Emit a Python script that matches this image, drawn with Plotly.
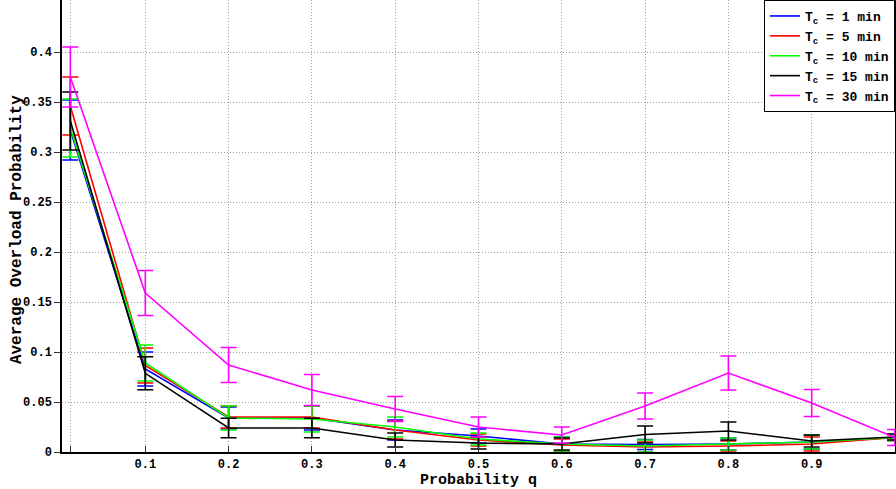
import plotly.graph_objects as go

q = [0.01, 0.1, 0.2, 0.3, 0.4, 0.5, 0.6, 0.7, 0.8, 0.9, 1.0]

names = ["T<sub>c</sub> = 1 min", "T<sub>c</sub> = 5 min", "T<sub>c</sub> = 10 min",
         "T<sub>c</sub> = 15 min", "T<sub>c</sub> = 30 min"]
colors = ["#0000ff", "#ff0000", "#00ff00", "#000000", "#ff00ff"]

tc1_mean = [0.322, 0.083, 0.034, 0.034, 0.022, 0.016, 0.008, 0.0075, 0.008, 0.010, 0.0145]
tc1_err = [0.030, 0.017, 0.011, 0.012, 0.010, 0.007, 0.007, 0.005, 0.006, 0.007, 0.003]

tc5_mean = [0.346, 0.0865, 0.035, 0.035, 0.022, 0.012, 0.007, 0.005, 0.006, 0.008, 0.0145]
tc5_err = [0.029, 0.0175, 0.011, 0.011, 0.009, 0.006, 0.006, 0.005, 0.005, 0.007, 0.003]

tc10_mean = [0.324, 0.089, 0.034, 0.033, 0.025, 0.013, 0.008, 0.006, 0.008, 0.010, 0.0145]
tc10_err = [0.029, 0.018, 0.012, 0.013, 0.010, 0.006, 0.007, 0.006, 0.006, 0.007, 0.003]

tc15_mean = [0.331, 0.0787, 0.024, 0.024, 0.012, 0.009, 0.008, 0.0175, 0.021, 0.011, 0.015]
tc15_err = [0.029, 0.0165, 0.0097, 0.0097, 0.007, 0.006, 0.006, 0.0085, 0.009, 0.006, 0.003]

tc30_mean = [0.375, 0.159, 0.087, 0.062, 0.043, 0.025, 0.017, 0.046, 0.079, 0.049, 0.0145]
tc30_err = [0.030, 0.0225, 0.0175, 0.0155, 0.0125, 0.010, 0.008, 0.013, 0.017, 0.0135, 0.008]

means = [tc1_mean, tc5_mean, tc10_mean, tc15_mean, tc30_mean]
errs = [tc1_err, tc5_err, tc10_err, tc15_err, tc30_err]

x_tickvals = [0.01, 0.1, 0.2, 0.3, 0.4, 0.5, 0.6, 0.7, 0.8, 0.9, 1.0]
x_ticktext = ["", "0.1", "0.2", "0.3", "0.4", "0.5", "0.6", "0.7", "0.8", "0.9", "1"]
y_tickvals = [0, 0.05, 0.1, 0.15, 0.2, 0.25, 0.3, 0.35, 0.4]
y_ticktext = ["0", "0.05", "0.1", "0.15", "0.2", "0.25", "0.3", "0.35", "0.4"]

x_title = "Probability q"
y_title = "Average Overload Probability"

FONT = "Liberation Mono"

fig = go.Figure()
for name, color, m, e in zip(names, colors, means, errs):
    fig.add_trace(go.Scatter(
        x=q, y=m, name=name, mode="lines",
        line=dict(color=color, width=1.6),
        error_y=dict(type="data", array=e, visible=True, color=color,
                     thickness=1.6, width=8),
    ))

fig.update_layout(
    width=896, height=489,
    margin=dict(l=62, r=1, t=0, b=37, pad=0),
    paper_bgcolor="white", plot_bgcolor="white",
    font=dict(family=FONT, color="black", size=12),
    showlegend=True,
    legend=dict(
        x=1, y=1, xanchor="right", yanchor="top",
        bgcolor="white", bordercolor="black", borderwidth=1,
        font=dict(family=FONT, size=13, weight="bold", color="black"),
        itemwidth=30, tracegroupgap=0,
    ),
    xaxis=dict(
        range=[0, 1], tickvals=x_tickvals, ticktext=x_ticktext,
        showgrid=True, gridcolor="#a0a0a0", griddash="1px,2px", gridwidth=1,
        showline=True, linecolor="black", linewidth=1.5, mirror=False,
        ticks="inside", ticklen=6, tickcolor="#333333",
        tickfont=dict(family=FONT, size=12, weight="bold"),
        zeroline=False, automargin=False,
    ),
    yaxis=dict(
        range=[0, 0.452], tickvals=y_tickvals, ticktext=y_ticktext,
        showgrid=True, gridcolor="#a0a0a0", griddash="1px,2px", gridwidth=1,
        showline=True, linecolor="black", linewidth=1.5, mirror=True,
        ticks="outside", ticklen=6, tickcolor="#333333",
        tickfont=dict(family=FONT, size=12, weight="bold"),
        zeroline=False, automargin=False,
    ),
    annotations=[
        dict(text=x_title, xref="paper", yref="paper", x=0.5, y=-0.064,
             xanchor="center", yanchor="middle", showarrow=False,
             font=dict(family=FONT, size=15, weight="bold", color="black")),
        dict(text=y_title, xref="paper", yref="paper", x=-0.054, y=0.491,
             xanchor="center", yanchor="middle", textangle=-90, showarrow=False,
             font=dict(family=FONT, size=16, weight="bold", color="black")),
    ],
)

fig.write_html(
    "out.html",
    config={"displayModeBar": False},
    post_script="document.body.style.margin='0';document.body.style.overflow='hidden';",
)
